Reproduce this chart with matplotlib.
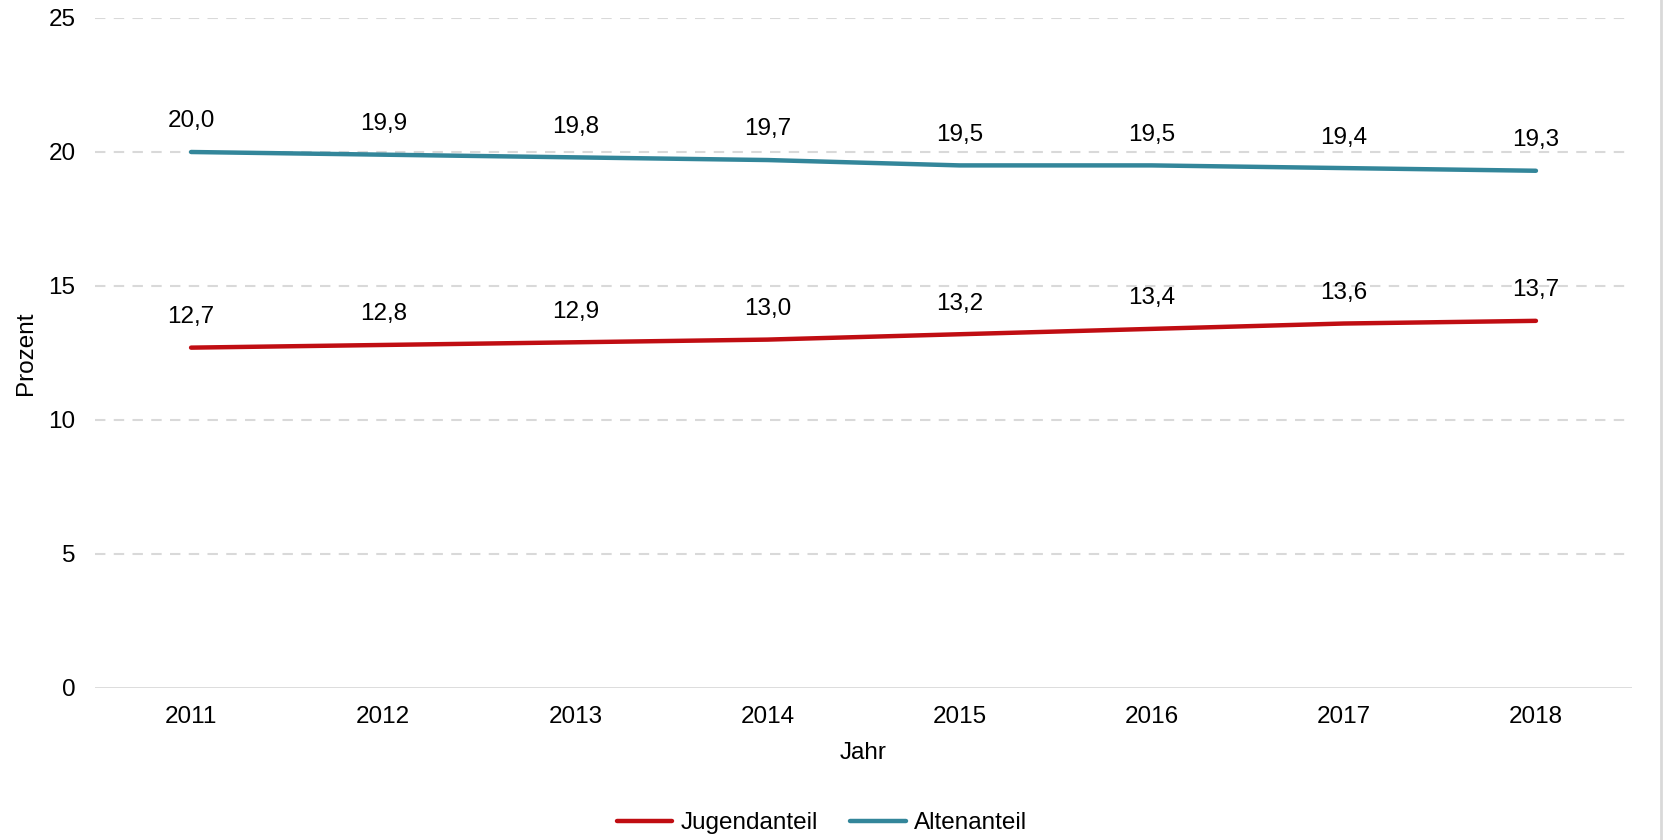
import matplotlib
matplotlib.use('Agg')
import matplotlib.pyplot as plt
from matplotlib.lines import Line2D

plt.rcParams['font.family'] = ['Liberation Sans', 'DejaVu Sans']

years = ['2011', '2012', '2013', '2014', '2015', '2016', '2017', '2018']
jugendanteil = [12.7, 12.8, 12.9, 13.0, 13.2, 13.4, 13.6, 13.7]
altenanteil = [20.0, 19.9, 19.8, 19.7, 19.5, 19.5, 19.4, 19.3]
y_ticks = [0, 5, 10, 15, 20, 25]

RED = '#c00d12'
TEAL = '#33869a'
GRID = '#d9d9d9'
FS = 17.5

fig = plt.figure(figsize=(16.69, 8.4), dpi=100)
ax = fig.add_axes([95 / 1669, 1 - 688 / 840, (1632 - 95) / 1669, (688 - 18) / 840])

x = list(range(len(years)))
ax.plot(x, jugendanteil, color=RED, linewidth=3.2, solid_capstyle='round', label='Jugendanteil')
ax.plot(x, altenanteil, color=TEAL, linewidth=3.2, solid_capstyle='round', label='Altenanteil')

# Datenbeschriftungen
for series in (jugendanteil, altenanteil):
    for xi, v in zip(x, series):
        ax.annotate(f'{v:.1f}'.replace('.', ','), (xi, v), xytext=(0, 22),
                    textcoords='offset points', ha='center', va='center',
                    fontsize=FS, color='black')

ax.set_xlim(-0.5, len(years) - 0.5)
ax.set_ylim(0, 25)
ax.set_xticks(x)
ax.set_xticklabels(years)
ax.set_yticks(y_ticks)

for t in y_ticks[1:]:
    ax.axhline(t, color=GRID, linewidth=1.5, linestyle=(0, (5, 4)), zorder=0)
ax.axhline(0, color=GRID, linewidth=2, zorder=0)

for s in ax.spines.values():
    s.set_visible(False)
ax.tick_params(axis='both', length=0, labelsize=FS)
ax.tick_params(axis='x', pad=13)
ax.tick_params(axis='y', pad=14)

ax.set_xlabel('Jahr', fontsize=FS, labelpad=10)
ax.set_ylabel('Prozent', fontsize=FS, labelpad=8)

fig.legend(loc='center', bbox_to_anchor=(822 / 1669, 1 - 823 / 840), ncol=2,
           frameon=False, fontsize=FS, handlelength=2.3, handletextpad=0.35,
           columnspacing=1.3)

# rechter Rahmen
fig.add_artist(Line2D([1661 / 1669, 1661 / 1669], [0, 1], color=GRID,
                      linewidth=2, transform=fig.transFigure))

fig.savefig('out.png', dpi=100)
